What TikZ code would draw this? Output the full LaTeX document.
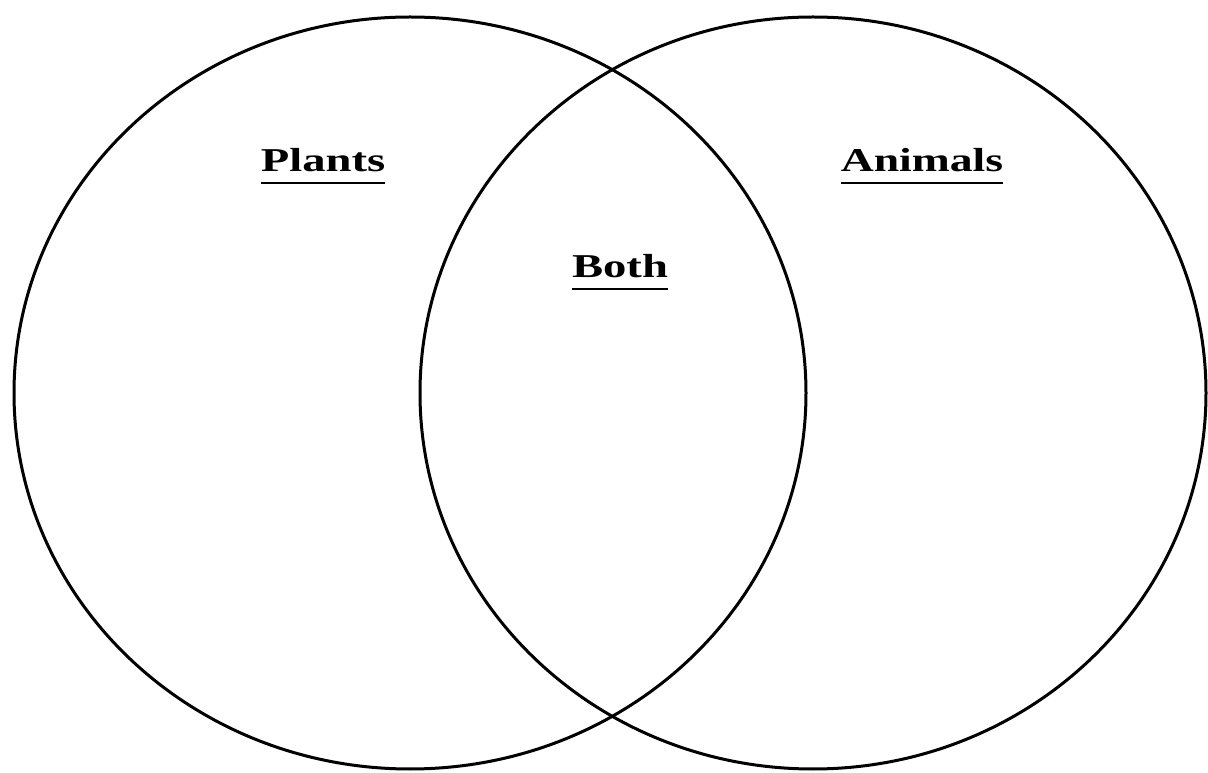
\documentclass[tikz,border=0pt]{standalone}
\usepackage{fontspec}
\setmainfont{Liberation Serif}
\begin{document}
\begin{tikzpicture}[x=0.75pt,y=-0.75pt,
  ring/.style={draw=black,line width=2.25pt},
  lbl/.style={anchor=base,inner sep=0pt,font=\fontsize{25}{30}\selectfont\bfseries},
  uline/.style={draw=black,line width=1.5pt}]
\useasboundingbox (0,0) rectangle (1208,773);
\fill[white] (0,0) rectangle (1208,773);
\draw[ring] (410,393) ellipse [x radius=396pt*0.75, y radius=376pt*0.75];
\draw[ring] (813,393) ellipse [x radius=393pt*0.75, y radius=376pt*0.75];
\node[lbl] (plants) at (323,172) {\scalebox{1.4}[1]{Plants}};
\node[lbl] (animals) at (922,172) {\scalebox{1.37}[1]{Animals}};
\node[lbl] (both) at (620,278) {\scalebox{1.4}[1]{Both}};
\foreach \n in {plants,animals,both}{
  \draw[uline] ([yshift=-8.5pt]\n.base west) -- ([yshift=-8.5pt]\n.base east);
}
\end{tikzpicture}
\end{document}
